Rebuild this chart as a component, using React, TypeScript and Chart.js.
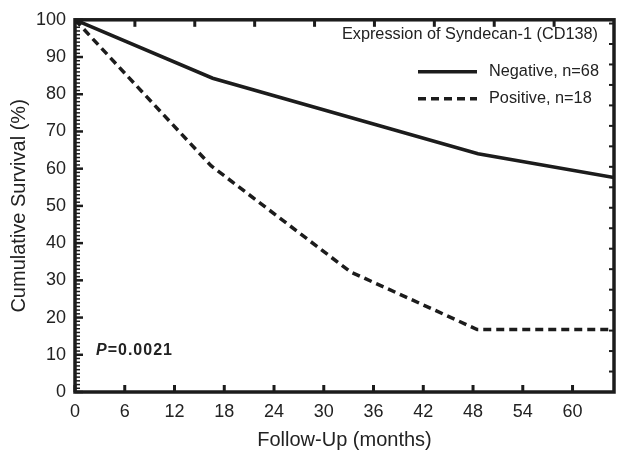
import React, { useEffect, useRef } from 'react';
import { Chart, registerables } from 'chart.js';

Chart.register(...registerables);

// ---- data ----
const negativeMonths = [0, 16.6, 48.6, 65];
const negativeSurvival = [100, 84.3, 64.0, 57.6];
const positiveMonths = [0, 16.4, 33.2, 48.5, 65];
const positiveSurvival = [100, 60.8, 32.3, 16.8, 16.8];

const xTickValues = [0, 6, 12, 18, 24, 30, 36, 42, 48, 54, 60];
const yTickValues = [0, 10, 20, 30, 40, 50, 60, 70, 80, 90, 100];
const seriesLabels = ['Negative, n=68', 'Positive, n=18'];
const legendTitle = 'Expression of Syndecan-1 (CD138)';
const pLabel = 'P';
const pValueText = '=0.0021';
const xTitle = 'Follow-Up (months)';
const yTitle = 'Cumulative Survival (%)';

const FONT = "'Liberation Sans', Arial, Helvetica, sans-serif";
const INK = '#1c1c1c';
const TEXT = '#222222';

const framePlugin = {
  id: 'frameTicks',
  afterDatasetsDraw(chart: any) {
    const { ctx, chartArea, scales } = chart;
    const { left, right, top, bottom } = chartArea;
    const xs = scales.x;
    const ys = scales.y;
    const seg = (x1: number, y1: number, x2: number, y2: number) => {
      ctx.beginPath();
      ctx.moveTo(x1, y1);
      ctx.lineTo(x2, y2);
      ctx.stroke();
    };
    ctx.save();
    ctx.strokeStyle = INK;
    ctx.lineCap = 'butt';
    // left minor ticks
    ctx.lineWidth = 1.5;
    for (let v = 1; v < 100; v++) {
      if (v % 10 === 0) continue;
      const py = ys.getPixelForValue(v);
      seg(left, py, left + 5, py);
    }
    // left major ticks
    ctx.lineWidth = 2.5;
    yTickValues.forEach((v) => {
      const py = ys.getPixelForValue(v);
      seg(left, py, left + 8, py);
    });
    // bottom ticks
    ctx.lineWidth = 3;
    xTickValues.forEach((v) => {
      const px = xs.getPixelForValue(v);
      seg(px, bottom, px, bottom - 7);
    });
    // top ticks (9 equal divisions)
    const xmax = xs.max;
    for (let k = 1; k < 9; k++) {
      const px = xs.getPixelForValue((xmax * k) / 9);
      seg(px, top, px, top + 7);
    }
    // right ticks
    ctx.lineWidth = 2;
    for (let k = 1; k <= 18; k++) {
      const py = ys.getPixelForValue(k * 5.5);
      seg(right, py, right - 5, py);
    }
    // frame
    ctx.lineWidth = 3.5;
    ctx.strokeRect(left, top, right - left, bottom - top);
    ctx.restore();
  },
};

const legendPlugin = {
  id: 'innerLegend',
  afterDraw(chart: any) {
    const { ctx, chartArea } = chart;
    const { right, top, left, bottom } = chartArea;
    ctx.save();
    ctx.fillStyle = TEXT;
    ctx.font = `16.3px ${FONT}`;
    ctx.textBaseline = 'middle';
    ctx.textAlign = 'right';
    ctx.fillText(legendTitle, right - 16, top + 15);
    ctx.textAlign = 'left';
    const rows = [top + 52, top + 79];
    chart.data.datasets.forEach((ds: any, i: number) => {
      const y = rows[i];
      ctx.strokeStyle = ds.borderColor;
      ctx.lineWidth = ds.borderWidth;
      ctx.setLineDash(ds.borderDash || []);
      ctx.beginPath();
      ctx.moveTo(right - 196, y);
      ctx.lineTo(right - 137, y);
      ctx.stroke();
      ctx.setLineDash([]);
      ctx.fillText(ds.label, right - 125, y);
    });
    // P value
    const py = bottom - 41;
    let px = left + 21;
    (ctx as any).letterSpacing = '1px';
    ctx.font = `italic bold 16px ${FONT}`;
    ctx.fillText(pLabel, px, py);
    px += ctx.measureText(pLabel).width;
    ctx.font = `bold 16px ${FONT}`;
    ctx.fillText(pValueText, px, py);
    ctx.restore();
  },
};

export default function App() {
  const canvasRef = useRef<HTMLCanvasElement | null>(null);

  useEffect(() => {
    if (!canvasRef.current) return;
    const chart = new Chart(canvasRef.current, {
      type: 'line',
      data: {
        datasets: [
          {
            label: seriesLabels[0],
            data: negativeMonths.map((m, i) => ({ x: m, y: negativeSurvival[i] })),
            borderColor: INK,
            borderWidth: 3.5,
            pointRadius: 0,
            fill: false,
            tension: 0,
          },
          {
            label: seriesLabels[1],
            data: positiveMonths.map((m, i) => ({ x: m, y: positiveSurvival[i] })),
            borderColor: INK,
            borderWidth: 3.5,
            borderDash: [8, 5],
            pointRadius: 0,
            fill: false,
            tension: 0,
          },
        ],
      },
      options: {
        responsive: false,
        animation: false,
        devicePixelRatio: 1,
        layout: { padding: { top: 17, right: 3, left: 0, bottom: 0 } },
        plugins: {
          legend: { display: false },
          tooltip: { enabled: false },
          title: { display: false },
        },
        scales: {
          x: {
            type: 'linear',
            min: 0,
            max: 65,
            grid: { display: false, drawTicks: false },
            border: { display: false },
            afterBuildTicks: (scale: any) => {
              scale.ticks = xTickValues.map((v) => ({ value: v }));
            },
            afterFit: (scale: any) => {
              scale.height = 60;
            },
            ticks: {
              autoSkip: false,
              maxRotation: 0,
              padding: 9,
              color: TEXT,
              font: { family: FONT, size: 18 },
            },
            title: {
              display: true,
              text: xTitle,
              color: TEXT,
              font: { family: FONT, size: 20 },
              padding: { top: 0, bottom: 0 },
            },
          },
          y: {
            type: 'linear',
            min: 0,
            max: 100,
            grid: { display: false, drawTicks: false },
            border: { display: false },
            afterBuildTicks: (scale: any) => {
              scale.ticks = yTickValues.map((v) => ({ value: v }));
            },
            afterFit: (scale: any) => {
              scale.width = 75;
            },
            ticks: {
              autoSkip: false,
              padding: 9,
              color: TEXT,
              font: { family: FONT, size: 18 },
            },
            title: {
              display: true,
              text: yTitle,
              color: TEXT,
              font: { family: FONT, size: 20 },
              padding: { top: 7, bottom: 0 },
            },
          },
        },
      },
      plugins: [framePlugin, legendPlugin],
    });
    return () => chart.destroy();
  }, []);

  return (
    <div style={{ position: 'absolute', left: 0, top: 0, width: 617, height: 452, background: '#fff' }}>
      <canvas ref={canvasRef} width={617} height={452} style={{ display: 'block', width: 617, height: 452 }} />
    </div>
  );
}
